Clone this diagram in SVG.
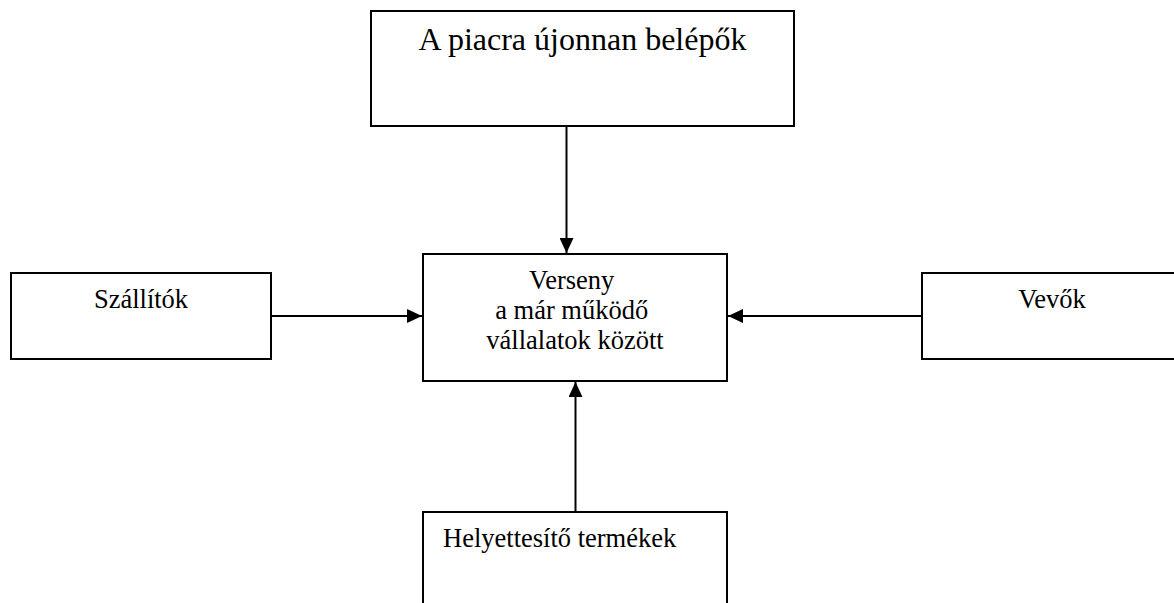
<svg xmlns="http://www.w3.org/2000/svg" width="1174" height="603" viewBox="0 0 1174 603">
  <style>
    .box { fill: #ffffff; stroke: #000000; stroke-width: 2; }
    .lbl { font-family: "Liberation Serif", "Times New Roman", serif; fill: #000000; font-size: 26.5px; }
    .edge { stroke: #000000; stroke-width: 2; fill: none; marker-end: url(#arrow); }
  </style>
  <defs>
    <marker id="arrow" markerUnits="userSpaceOnUse" markerWidth="16" markerHeight="14" refX="15" refY="7" orient="auto">
      <path d="M0,0 L15,7 L0,14 Z" fill="#000000"/>
    </marker>
  </defs>
  <rect width="1174" height="603" fill="#ffffff"/>

  <g id="connectors">
    <line class="edge" x1="566.5" y1="126" x2="566.5" y2="253"/>
    <line class="edge" x1="271" y1="316" x2="422" y2="316"/>
    <line class="edge" x1="922" y1="316" x2="728" y2="316"/>
    <line class="edge" x1="575.5" y1="512" x2="575.5" y2="382"/>
  </g>

  <g id="node-entrants">
    <rect class="box" x="371" y="11" width="423" height="115"/>
    <text class="lbl" x="582.5" y="50" style="font-size:32px" text-anchor="middle">A piacra újonnan belépők</text>
  </g>

  <g id="node-rivalry">
    <rect class="box" x="423" y="254" width="304" height="127"/>
    <text class="lbl" text-anchor="middle">
      <tspan x="575" y="289">Verseny</tspan>
      <tspan x="575" y="319">a már működő</tspan>
      <tspan x="575" y="349">vállalatok között</tspan>
    </text>
  </g>

  <g id="node-suppliers">
    <rect class="box" x="11" y="273" width="260" height="86"/>
    <text class="lbl" x="141" y="308" text-anchor="middle">Szállítók</text>
  </g>

  <g id="node-buyers">
    <rect class="box" x="922" y="273" width="262" height="86"/>
    <text class="lbl" x="1052" y="308" text-anchor="middle">Vevők</text>
  </g>

  <g id="node-substitutes">
    <rect class="box" x="423" y="512" width="304" height="100"/>
    <text class="lbl" x="443" y="547">Helyettesítő termékek</text>
  </g>
</svg>
